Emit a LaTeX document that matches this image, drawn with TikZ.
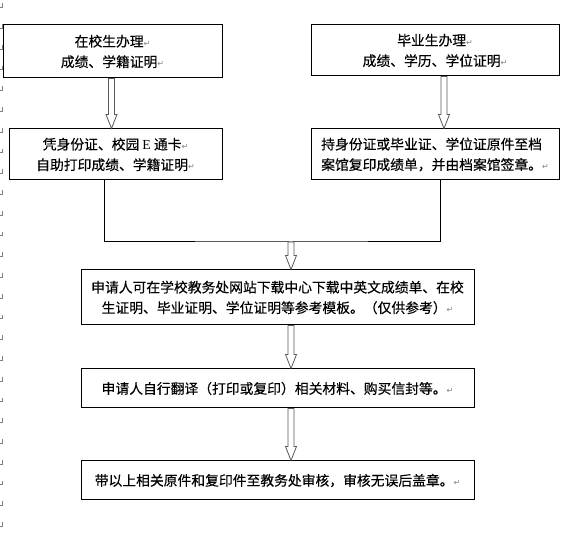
\documentclass[tikz,border=0pt]{standalone}
\usepackage{fontspec}
\usepackage{xcolor}
\setmainfont{Liberation Serif}
\newfontfamily\cjkfont[FakeBold=0.3]{Noto Sans CJK SC}
\newfontfamily\markfont{DejaVu Sans}
\usetikzlibrary{
	calc								% Calculate point coordinates
}
\definecolor{markgray}{rgb}{0.5, 0.5, 0.5}
\definecolor{arrowgray}{rgb}{0.35, 0.35, 0.35}
% Paragraph mark after each line
\newcommand{\retMark}{{\markfont\fontsize{8}{8}\selectfont\textcolor{markgray}{↵}}}
% Hollow block arrow from a point down to a node border
\newcommand{\hollowArrow}[2]{%
	\path[draw=arrowgray, fill=white, line width=0.8pt] let \p1=#1, \p2=#2 in
		(\x1-3pt,\y1) -- (\x1+3pt,\y1) -- (\x1+3pt,\y2+14pt) -- (\x1+5.5pt,\y2+14pt)
		-- (\x1,\y2) -- (\x1-5.5pt,\y2+14pt) -- (\x1-3pt,\y2+14pt) -- cycle;
}

\begin{document}
\begin{tikzpicture}[x=1pt, y=-1pt]
		\tikzstyle{box} = [draw, line width=1pt, inner sep=0pt, align=center, font=\cjkfont\fontsize{13.8}{20.5}\selectfont]
		\tikzstyle{wideBox} = [box, minimum width=393pt]
		\useasboundingbox (0,0) rectangle (579,537);
		
		%% Paragraph marks in the left margin
		\foreach \k in {0, ..., 25}{
			\pgfmathsetmacro{\markY}{7.5 + 20.75*\k}
			\draw[markgray, line width=0.8pt] (0,\markY) -- (2,\markY) -- (2,\markY-4);
		}
		
		% Top row
		\node[box, minimum width=219pt, minimum height=53pt] at (112.5, 51.5) (stuOffice) {在校生办理\retMark\\成绩、学籍证明\retMark};
		\node[box, minimum width=248pt, minimum height=51pt] at (435, 50.5) (gradOffice) {毕业生办理\retMark\\成绩、学历、学位证明\retMark};
		
		% Second row
		\node[box, minimum width=213pt, minimum height=51pt] at (115.5, 154.5) (stuPrint) {凭身份证、校园 {\rmfamily E} 通卡\retMark\\自助打印成绩、学籍证明\retMark};
		\node[box, align=left, minimum width=248pt, minimum height=51pt] at (435, 154.5) (gradArchive) {持身份证或毕业证、学位证原件至档\\案馆复印成绩单，并由档案馆签章。\retMark};
		
		%% Arrows from above
		\coordinate (stuArrowTop) at ($(stuOffice.south)+(-1,0)$);
		\coordinate (gradArrowTop) at ($(gradOffice.south)+(9,0)$);
		\hollowArrow{(stuArrowTop)}{(stuPrint.north)}
		\hollowArrow{(gradArrowTop)}{(gradArchive.north)}
		
		% Common steps
		\node[wideBox, minimum height=55pt] at (277.5, 297.5) (templates) {申请人可在学校教务处网站下载中心下载中英文成绩单、在校\\生证明、毕业证明、学位证明等参考模板。（仅供参考）\retMark};
		\node[wideBox, minimum height=39pt] at (277.5, 388.5) (translate) {申请人自行翻译（打印或复印）相关材料、购买信封等。\retMark};
		\node[wideBox, minimum height=39pt] at (277.5, 480.5) (stamp) {带以上相关原件和复印件至教务处审核，审核无误后盖章。\retMark};
		
		%% Joining line
		\coordinate (stuDrop) at ($(stuPrint.south)+(-11.5,0)$);
		\coordinate (gradDrop) at ($(gradArchive.south)+(5,0)$);
		\coordinate (mergeMid) at (291, 242);
		\draw[line width=1pt] (stuDrop) |- (mergeMid) -| (gradDrop);
		
		%% Arrows down the chain
		\coordinate (templatesArrowTop) at ($(templates.south)+(13.5,0)$);
		\coordinate (translateArrowTop) at ($(translate.south)+(13.5,0)$);
		\hollowArrow{(mergeMid)}{(templates.north)}
		\hollowArrow{(templatesArrowTop)}{(translate.north)}
		\hollowArrow{(translateArrowTop)}{(stamp.north)}
	\end{tikzpicture}
\end{document}
